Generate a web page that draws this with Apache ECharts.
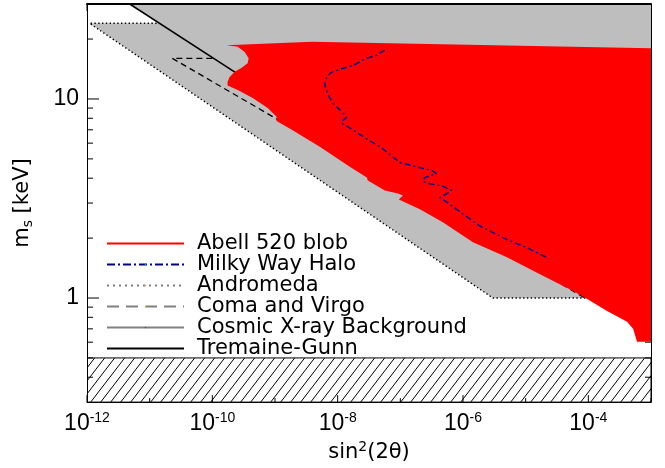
<!DOCTYPE html>
<html>
<head>
<meta charset="utf-8">
<script src="https://cdn.jsdelivr.net/npm/echarts@6/dist/echarts.min.js"></script>
<style>html,body{margin:0;padding:0;background:#fff}#container{width:665px;height:468px}</style>
</head>
<body>
<div id="container"></div>
<script>
// axis ranges and ticks
var xMin = 1e-12, xMax = 1e-3, yMin = 0.3, yMax = 30;
var xMajorTicks = [1e-12, 1e-10, 1e-8, 1e-6, 1e-4];
var xMinorTicks = [1e-11, 1e-9, 1e-7, 1e-5, 1e-3];
var yMajorTicks = [1, 10];
var yMinorTicks = [0.4, 0.5, 0.6, 0.7, 0.8, 0.9, 2, 3, 4, 5, 6, 7, 8, 9, 20];

// [sin^2(2theta), m_s keV]
var abellBlob = [[1.69e-10,18.6],[3.85e-9,19.4],[1e-3,18.0],[1e-3,0.603],[6.0e-4,0.603],[5.18e-4,0.70],[4.15e-4,0.759],[1.99e-4,0.861],[9.57e-5,0.99],[5.72e-5,1.084],[1.69e-5,1.318],[5.02e-6,1.603],[1.44e-6,1.905],[4.77e-7,2.40],[2.05e-7,2.79],[9.46e-8,3.13],[1.10e-7,3.27],[9.16e-8,3.35],[5.65e-8,3.47],[3.03e-8,3.89],[2.92e-8,4.03],[1.56e-8,4.57],[5.18e-9,5.75],[1.85e-9,7.0],[1.06e-9,7.76],[1.06e-9,8.13],[7.64e-10,9.02],[4.40e-10,10.1],[2.54e-10,11.1],[1.75e-10,11.7],[1.75e-10,12.2],[1.89e-10,12.9],[2.27e-10,13.7],[2.90e-10,14.3],[3.66e-10,15.1],[3.80e-10,16.0],[3.28e-10,17.2],[2.54e-10,18.3]];
var milkyWay = [[5.65e-8,17.6],[4.17e-8,16.6],[2.88e-8,16.0],[1.74e-8,14.7],[1.08e-8,14.1],[7.96e-9,13.6],[6.62e-9,12.9],[6.22e-9,11.7],[7.03e-9,10.5],[8.35e-9,9.55],[1.0e-8,9.02],[1.30e-8,8.32],[1.38e-8,8.06],[1.15e-8,7.70],[1.21e-8,7.50],[1.74e-8,7.0],[2.88e-8,6.31],[4.71e-8,5.77],[8.69e-8,4.95],[9.82e-8,4.79],[2.05e-7,4.52],[3.15e-7,4.38],[3.78e-7,4.22],[2.46e-7,4.03],[2.31e-7,3.85],[2.97e-7,3.75],[4.78e-7,3.64],[6.58e-7,3.48],[5.81e-7,3.38],[4.29e-7,3.19],[4.78e-7,3.13],[7.91e-7,2.79],[1.86e-6,2.30],[4.97e-6,1.97],[1.17e-5,1.76],[2.16e-5,1.60]];
var andromeda = [[1.29e-11,24],[1.1e-12,24],[3.0e-6,1.0],[9.0e-5,1.0]];
var comaVirgo = [[1.0e-10,16],[2.3e-11,16],[8.9e-5,1.0]];
var xrayLine = [[4.8e-12,30],[3.0e-10,12.9]];
var excluded = [[1.1e-12,24],[1.45e-11,24],[4.8e-12,30],[1e-3,30],[1e-3,1.0],[3.0e-6,1.0]];
var tremaineGunn = [[1e-12,0.3],[1e-3,0.3],[1e-3,0.5],[1e-12,0.5]];

var dom = document.getElementById("container");
var myChart = echarts.init(dom);

// hatch pattern for the Tremaine-Gunn band
var hatch = document.createElement('canvas');
hatch.width = 10; hatch.height = 13;
var g = hatch.getContext('2d');
g.strokeStyle = '#000'; g.lineWidth = 1;
g.beginPath();
g.moveTo(-10, 13); g.lineTo(0, 0);
g.moveTo(0, 13); g.lineTo(10, 0);
g.moveTo(10, 13); g.lineTo(20, 0);
g.stroke();

function polygon(name, pts, style, color, z) {
    return {
        name: name, type: 'custom', z: z, clip: true, silent: true,
        itemStyle: { color: color },
        data: pts,
        renderItem: function (params, api) {
            if (params.dataIndex !== 0) return null;
            return {
                type: 'polygon',
                shape: { points: pts.map(function (p) { return api.coord(p); }) },
                style: style
            };
        }
    };
}

function curve(name, pts, color, width, type, z) {
    return {
        name: name, type: 'line', z: z, data: pts, symbol: 'none', showSymbol: false, silent: true,
        lineStyle: { color: color, width: width, type: type }
    };
}

function seg(a, b) {
    return { type: 'line', shape: { x1: a[0], y1: a[1], x2: b[0], y2: b[1] }, style: { stroke: '#000', lineWidth: 1 } };
}

// tick marks on all four sides, drawn through the axes
var tickAnchor = [[xMin, yMin]];
var ticks = {
    name: 'ticks', type: 'custom', z: 2, silent: true, data: tickAnchor,
    renderItem: function (params, api) {
        var out = [];
        function xt(v, L) {
            var b = api.coord([v, yMin]), t = api.coord([v, yMax]);
            out.push(seg(b, [b[0], b[1] - L]), seg(t, [t[0], t[1] + L]));
        }
        function yt(v, L) {
            var l = api.coord([xMin, v]), r = api.coord([xMax, v]);
            out.push(seg(l, [l[0] + L, l[1]]), seg(r, [r[0] - L, r[1]]));
        }
        xMajorTicks.forEach(function (v) { xt(v, 7); });
        xMinorTicks.forEach(function (v) { xt(v, 4); });
        yMajorTicks.forEach(function (v) { yt(v, 12); });
        yMinorTicks.forEach(function (v) { yt(v, 6); });
        return { type: 'group', children: out };
    }
};

var fmtX = function (v) {
    var l = Math.log(v) / Math.LN10, e = Math.round(l);
    if (Math.abs(l - e) > 1e-6 || e % 2 !== 0) return '';
    return '{b|10}{s|' + e + '}';
};
var fmtY = function (v) {
    var l = Math.log(v) / Math.LN10, e = Math.round(l);
    if (Math.abs(l - e) > 1e-6) return '';
    return e === 0 ? '{b|1}' : '{b|10}';
};
var lab = { fontFamily: 'Liberation Sans', fontSize: 23, color: '#000', lineHeight: 26 };
var sup = { fontFamily: 'Liberation Sans', fontSize: 14, color: '#000', verticalAlign: 'top', lineHeight: 14 };
var nm = { fontFamily: 'DejaVu Sans', fontSize: 21, color: '#000', lineHeight: 24 };

option = {
    animation: false,
    backgroundColor: '#fff',
    grid: { left: 87, right: 14, top: 4, bottom: 65 },
    legend: {
        orient: 'vertical', left: 106, top: 233, padding: 0, itemGap: 0, itemWidth: 77, itemHeight: 2,
        selectedMode: false,
        textStyle: { fontFamily: 'DejaVu Sans', fontSize: 21, color: '#000', lineHeight: 19.6, padding: [0, 0, 0, 8] },
        data: [
            { name: 'Abell 520 blob', icon: 'rect', itemStyle: { color: '#ff0000' } },
            { name: 'Milky Way Halo', lineStyle: { color: '#00008b', width: 2, type: [8, 3, 2, 3] } },
            { name: 'Andromeda', lineStyle: { color: '#808080', width: 2, type: [2, 4] } },
            { name: 'Coma and Virgo', lineStyle: { color: '#808080', width: 2, type: [12, 7] } },
            { name: 'Cosmic X-ray Background', lineStyle: { color: '#808080', width: 2, type: 'solid' } },
            { name: 'Tremaine-Gunn', icon: 'rect', itemStyle: { color: '#000' } }
        ]
    },
    xAxis: [{
        type: 'log', logBase: 10, min: xMin, max: xMax, splitNumber: 9, position: 'bottom', z: 10,
        axisLine: { onZero: false, lineStyle: { color: '#000', width: 1 } },
        axisTick: { show: false }, splitLine: { show: false },
        axisLabel: { formatter: fmtX, margin: 9, rich: { b: lab, s: sup } },
        name: '{b|sin}{s|2}{b|(2θ)}', nameLocation: 'middle', nameGap: 38,
        nameTextStyle: { rich: { b: nm, s: { fontFamily: 'DejaVu Sans', fontSize: 14, color: '#000', verticalAlign: 'top', lineHeight: 14 } } }
    }, {
        type: 'log', logBase: 10, min: xMin, max: xMax, position: 'top', z: 10,
        axisLine: { onZero: false, lineStyle: { color: '#000', width: 2 } },
        axisTick: { show: false }, splitLine: { show: false }, axisLabel: { show: false }
    }],
    yAxis: [{
        type: 'log', logBase: 10, min: yMin, max: yMax, splitNumber: 2, position: 'left', z: 10,
        axisLine: { onZero: false, lineStyle: { color: '#000', width: 1 } },
        axisTick: { show: false }, splitLine: { show: false },
        axisLabel: { formatter: fmtY, margin: 8, rich: { b: lab } },
        name: '{b|m}{s|s}{b| [keV]}', nameLocation: 'middle', nameRotate: 90, nameGap: 52,
        nameTextStyle: { rich: { b: nm, s: { fontFamily: 'DejaVu Sans', fontSize: 14, color: '#000', verticalAlign: 'bottom', lineHeight: 14 } } }
    }, {
        type: 'log', logBase: 10, min: yMin, max: yMax, position: 'right', z: 10,
        axisLine: { onZero: false, lineStyle: { color: '#000', width: 1 } },
        axisTick: { show: false }, splitLine: { show: false }, axisLabel: { show: false }
    }],
    series: [
        polygon('Tremaine-Gunn', tremaineGunn, { fill: { image: hatch, repeat: 'repeat' }, stroke: '#000', lineWidth: 1 }, '#000', 1),
        ticks,
        polygon('excluded', excluded, { fill: '#bebebe' }, '#bebebe', 3),
        curve('Coma and Virgo', comaVirgo, '#000', 1.3, [6, 4], 4),
        curve('Cosmic X-ray Background', xrayLine, '#000', 1.5, 'solid', 4),
        curve('Andromeda', andromeda, '#000', 1.4, [1.4, 2.4], 4),
        polygon('Abell 520 blob', abellBlob, { fill: '#ff0000' }, '#ff0000', 5),
        curve('Milky Way Halo', milkyWay, '#00008b', 1.5, [6, 3, 2, 3], 6)
    ]
};
if (option && typeof option === "object") {
    myChart.setOption(option, true);
}
</script>
</body>
</html>
